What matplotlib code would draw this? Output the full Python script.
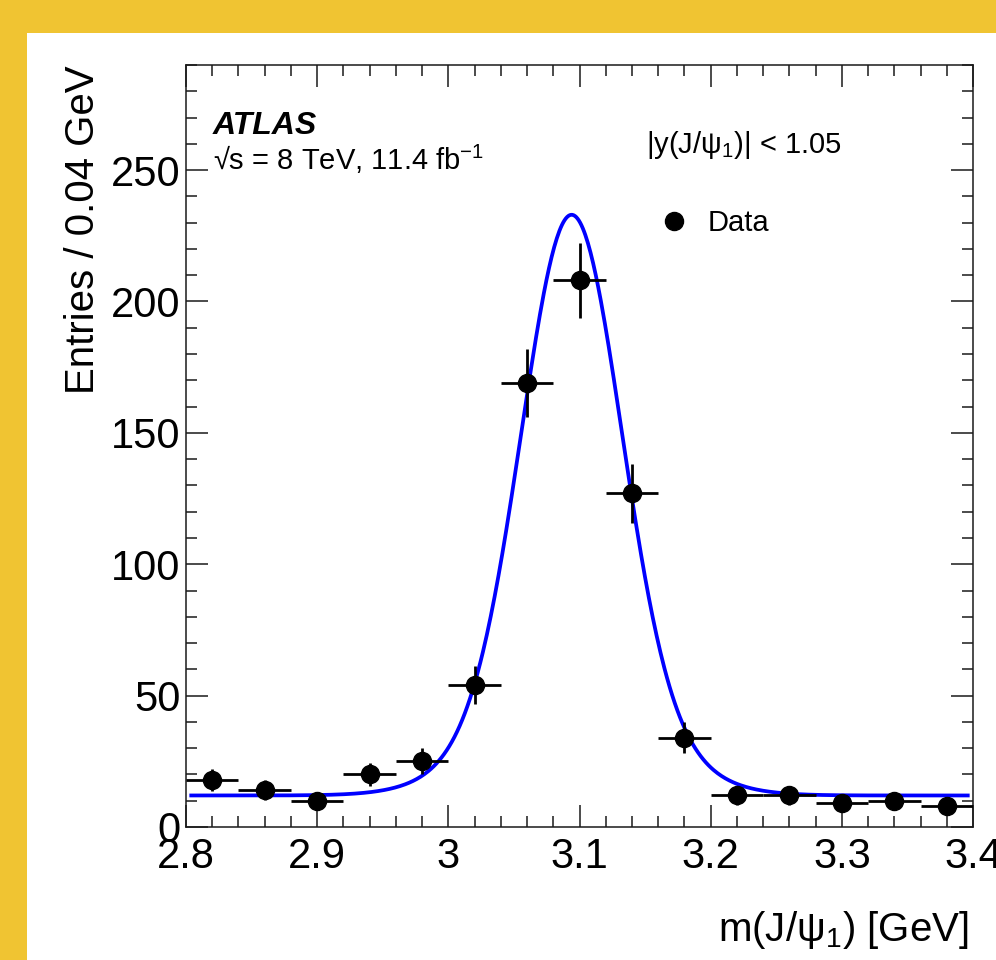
import numpy as np
import matplotlib
matplotlib.use('Agg')
import matplotlib.pyplot as plt
from matplotlib.lines import Line2D
from matplotlib.patches import Rectangle
from matplotlib.ticker import MultipleLocator

plt.rcParams['font.family'] = ['Liberation Sans', 'DejaVu Sans']
plt.rcParams['mathtext.fontset'] = 'custom'
plt.rcParams['mathtext.rm'] = 'Liberation Sans'
plt.rcParams['mathtext.it'] = 'Liberation Sans:italic'
plt.rcParams['mathtext.bf'] = 'Liberation Sans:bold'

# binned data, 0.04 GeV bins
bin_centres = [2.82, 2.86, 2.90, 2.94, 2.98, 3.02, 3.06, 3.10,
               3.14, 3.18, 3.22, 3.26, 3.30, 3.34, 3.38]
entries = [18, 14, 10, 20, 25, 54, 169, 208, 127, 34, 12, 12, 9, 10, 8]
entries_err = [4.2, 3.7, 3.2, 4.5, 5.0, 7.3, 13.0, 14.4, 11.3, 5.8,
               3.5, 3.5, 3.0, 3.2, 2.8]
bin_half_width = 0.02

# fit model: two gaussians on a flat background
fit_mean = 3.094
fit_sigma = [0.037, 0.058]
fit_amp = [180, 41]
fit_bkg = 12
fit_range = [2.804, 3.396]

x_ticks = [2.8, 2.9, 3.0, 3.1, 3.2, 3.3, 3.4]
x_ticklabels = ['2.8', '2.9', '3', '3.1', '3.2', '3.3', '3.4']
y_ticks = [0, 50, 100, 150, 200, 250]

YELLOW = '#F0C432'
INK = '#1a1a1a'

fig = plt.figure(figsize=(9.96, 9.6), dpi=100, facecolor=YELLOW)
fig.patches.append(Rectangle((27 / 996, 0), 1, 1 - 33 / 960, transform=fig.transFigure,
                             facecolor='white', edgecolor='none', zorder=-5))

ax = fig.add_axes([186 / 996, 1 - 827 / 960, 787 / 996, 762 / 960])
ax.set_zorder(1)
ax.set_xlim(2.8, 3.4)
ax.set_ylim(0, 290)

# fit curve
xf = np.linspace(fit_range[0], fit_range[1], 600)
yf = fit_bkg + sum(a * np.exp(-0.5 * ((xf - fit_mean) / s) ** 2)
                   for a, s in zip(fit_amp, fit_sigma))
ax.plot(xf, yf, color='#0000ff', lw=2.7, zorder=2)

# data points
ax.errorbar(bin_centres, entries, xerr=bin_half_width, yerr=entries_err,
            fmt='o', color='black', ms=13, elinewidth=2.0, capsize=0, zorder=3)

# axes styling (ROOT/ATLAS look)
ax.set_xticks(x_ticks)
ax.set_xticklabels(x_ticklabels)
ax.set_yticks(y_ticks)
ax.xaxis.set_minor_locator(MultipleLocator(0.02))
ax.yaxis.set_minor_locator(MultipleLocator(10))
ax.tick_params(which='both', direction='in', top=True, right=True,
               color=INK, width=1.1, labelsize=30, labelcolor='black')
ax.tick_params(which='major', length=16)
ax.tick_params(which='minor', length=8)
ax.tick_params(axis='x', which='major', pad=7)
ax.tick_params(axis='y', which='major', pad=4)
for sp in ax.spines.values():
    sp.set_color(INK)
    sp.set_linewidth(1.1)

ax.set_xlabel(r'm(J/$\mathrm{\psi}_1$) [GeV]', fontsize=29, loc='right')
ax.xaxis.set_label_coords(0.995, -0.108)
ax.set_ylabel('Entries / 0.04 GeV', fontsize=29, loc='top')
ax.yaxis.set_label_coords(-0.107, 1.0)

# annotations
ax.text(0.034, 0.909, 'ATLAS', transform=ax.transAxes, fontsize=23,
        fontweight='bold', fontstyle='italic', va='baseline')
ax.text(0.034, 0.862, '√s = 8 TeV, 11.4 fb$^{-1}$', transform=ax.transAxes,
        fontsize=21, va='baseline')
ax.text(0.585, 0.884, r'|y(J/$\mathrm{\psi}_1$)| < 1.05', transform=ax.transAxes,
        fontsize=21, va='baseline')

handle = Line2D([], [], marker='o', ls='none', color='black', ms=13)
ax.legend([handle], ['Data'], loc='center left', bbox_to_anchor=(0.602, 0.793),
          frameon=False, fontsize=21, handletextpad=0.63, handlelength=1.0,
          borderpad=0, borderaxespad=0)

fig.savefig('out.png', dpi=100, facecolor=YELLOW)
